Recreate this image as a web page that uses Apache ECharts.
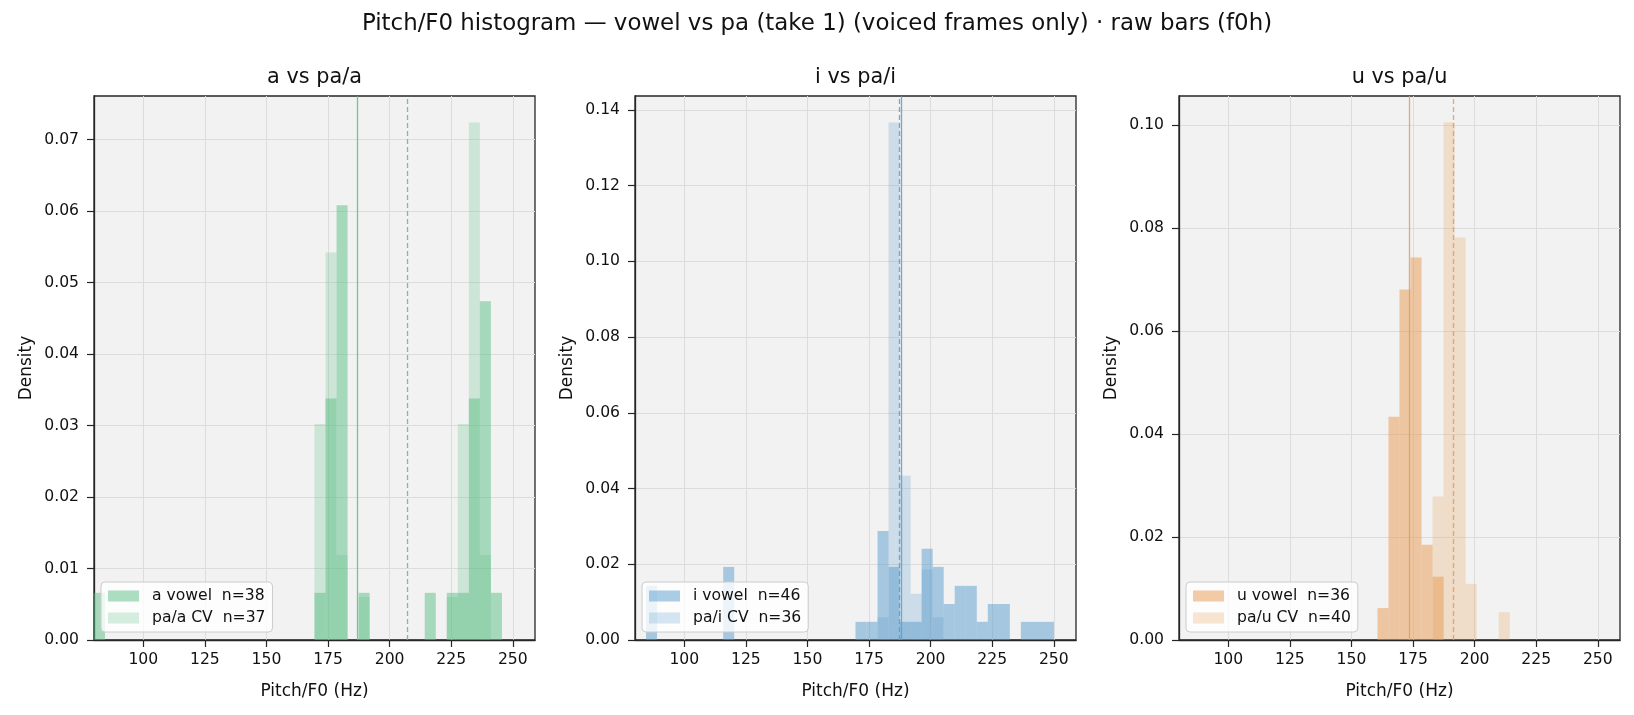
<!DOCTYPE html>
<html>
<head>
<meta charset="utf-8">
<title>Pitch/F0 histogram</title>
<script src="https://cdn.jsdelivr.net/npm/echarts@6/dist/echarts.min.js"></script>
<style>
html, body { margin: 0; padding: 0; background: #fff; }
#main { width: 1634px; height: 715px; }
</style>
</head>
<body>
<div id="main"></div>
<script>
// shared histogram bins (Hz)
var binMin = 80;
var binMax = 259;
var binCount = 40;

var panelTitles = ['a vs pa/a', 'i vs pa/i', 'u vs pa/u'];
var vowelNames = ['a vowel  n=38', 'i vowel  n=46', 'u vowel  n=36'];
var cvNames = ['pa/a CV  n=37', 'pa/i CV  n=36', 'pa/u CV  n=40'];

// [bin index, density]
var aVowel = [[0, 0.0066], [20, 0.0066], [21, 0.0338], [22, 0.0608], [24, 0.0066], [30, 0.0066],
              [32, 0.0066], [33, 0.0066], [34, 0.0338], [35, 0.0474], [36, 0.0066]];
var paA = [[20, 0.0302], [21, 0.0542], [22, 0.0119], [24, 0.0060], [32, 0.0060], [33, 0.0302],
           [34, 0.0724], [35, 0.0119]];
var iVowel = [[1, 0.0143], [8, 0.0193], [20, 0.0048], [21, 0.0048], [22, 0.0288], [23, 0.0193],
              [24, 0.0048], [25, 0.0048], [26, 0.0241], [27, 0.0193], [28, 0.0095], [29, 0.0143],
              [30, 0.0143], [31, 0.0048], [32, 0.0095], [33, 0.0095], [35, 0.0048], [36, 0.0048],
              [37, 0.0048]];
var paI = [[22, 0.0060], [23, 0.1367], [24, 0.0434], [25, 0.0122], [26, 0.0186], [27, 0.0060]];
var uVowel = [[18, 0.0062], [19, 0.0434], [20, 0.0681], [21, 0.0743], [22, 0.0185], [23, 0.0123]];
var paU = [[23, 0.0279], [24, 0.1006], [25, 0.0782], [26, 0.0109], [29, 0.0054]];

// mean F0 lines
var vowelMeans = [186.9, 188.0, 173.5];
var cvMeans = [207.2, 187.4, 191.4];

// axes
var xTicks = [100, 125, 150, 175, 200, 225, 250];
var yMax = [0.0761, 0.1437, 0.1057];
var yTicks = [
	[0, 0.01, 0.02, 0.03, 0.04, 0.05, 0.06, 0.07],
	[0, 0.02, 0.04, 0.06, 0.08, 0.10, 0.12, 0.14],
	[0, 0.02, 0.04, 0.06, 0.08, 0.10]
];

var baseColors = ['90,190,132', '90,156,205', '232,154,80'];
var vowelData = [aVowel, iVowel, uVowel];
var cvData = [paA, paI, paU];

var gridLefts = [94, 635, 1179];
var gridTop = 96;
var gridWidth = 441;
var gridHeight = 544;
var fontName = 'DejaVu Sans';
var inkColor = '#262626';

var histUtil = {
	binWidth: (binMax - binMin) / binCount,
	// bin pairs -> [start, end, density]
	toRows: function (pairs) {
		var w = this.binWidth;
		return pairs.map(function (p) {
			return [binMin + p[0] * w, binMin + (p[0] + 1) * w, p[1]];
		});
	},
	renderBar: function (params, api) {
		var topLeft = api.coord([api.value(0), api.value(2)]);
		var bottomRight = api.coord([api.value(1), 0]);
		return {
			type: 'rect',
			shape: {
				x: topLeft[0],
				y: topLeft[1],
				width: bottomRight[0] - topLeft[0],
				height: bottomRight[1] - topLeft[1]
			},
			style: { fill: api.visual('color') }
		};
	},
	meanLine: function (value, color, dashed) {
		return {
			symbol: 'none',
			silent: true,
			animation: false,
			label: { show: false },
			emphasis: { disabled: true },
			lineStyle: { color: color, width: 1.3, type: dashed ? [5, 3] : 'solid' },
			data: [{ xAxis: value }]
		};
	}
};

var option = {
	backgroundColor: '#ffffff',
	animation: false,
	title: [],
	legend: [],
	grid: [],
	xAxis: [],
	yAxis: [],
	series: []
};

option.title.push({
	text: 'Pitch/F0 histogram \u2014 vowel vs pa (take 1) (voiced frames only) \u00b7 raw bars (f0h)',
	left: 817,
	top: 13,
	padding: 0,
	textAlign: 'center',
	textStyle: { fontFamily: fontName, fontSize: 22.9, fontWeight: 'normal', color: '#111' }
});

for (var i = 0; i < 3; i++) {
	var col = baseColors[i];
	option.title.push({
		text: panelTitles[i],
		left: gridLefts[i] + gridWidth / 2,
		top: 67,
		padding: 0,
		textAlign: 'center',
		textStyle: { fontFamily: fontName, fontSize: 20.8, fontWeight: 'normal', color: '#111' }
	});
	option.grid.push({
		left: gridLefts[i],
		top: gridTop,
		width: gridWidth,
		height: gridHeight,
		show: true,
		backgroundColor: '#f2f2f2',
		borderColor: inkColor,
		borderWidth: 1.3
	});
	option.xAxis.push({
		type: 'value',
		gridIndex: i,
		min: binMin,
		max: binMax,
		minInterval: 25,
		maxInterval: 25,
		name: 'Pitch/F0 (Hz)',
		nameLocation: 'middle',
		nameGap: 43,
		nameTextStyle: { fontFamily: fontName, fontSize: 17, color: '#111' },
		axisLine: { show: true, onZero: false, lineStyle: { color: inkColor, width: 1.3 } },
		axisTick: { show: true, length: 7, customValues: xTicks, lineStyle: { color: inkColor, width: 1.2 } },
		axisLabel: {
			customValues: xTicks,
			margin: 12,
			fontFamily: fontName,
			fontSize: 15.6,
			color: '#111'
		},
		splitLine: { show: true, lineStyle: { color: '#dcdcdc', width: 1 } }
	});
	option.yAxis.push({
		type: 'value',
		gridIndex: i,
		min: 0,
		max: yMax[i],
		name: 'Density',
		nameLocation: 'middle',
		nameGap: 59,
		nameTextStyle: { fontFamily: fontName, fontSize: 17, color: '#111' },
		axisLine: { show: true, lineStyle: { color: inkColor, width: 1.3 } },
		axisTick: { show: true, length: 7, customValues: yTicks[i], lineStyle: { color: inkColor, width: 1.2 } },
		axisLabel: {
			customValues: yTicks[i],
			margin: 15,
			fontFamily: fontName,
			fontSize: 15.6,
			color: '#111',
			formatter: function (v) { return v.toFixed(2); }
		},
		splitLine: { show: true, lineStyle: { color: '#dcdcdc', width: 1 } }
	});
	option.series.push({
		type: 'custom',
		name: vowelNames[i],
		xAxisIndex: i,
		yAxisIndex: i,
		itemStyle: { color: 'rgba(' + col + ',0.5)' },
		encode: { x: [0, 1], y: 2 },
		renderItem: histUtil.renderBar,
		data: histUtil.toRows(vowelData[i]),
		markLine: histUtil.meanLine(vowelMeans[i], 'rgba(' + col + ',0.85)', false),
		z: 2
	});
	option.series.push({
		type: 'custom',
		name: cvNames[i],
		xAxisIndex: i,
		yAxisIndex: i,
		itemStyle: { color: 'rgba(' + col + ',0.25)' },
		encode: { x: [0, 1], y: 2 },
		renderItem: histUtil.renderBar,
		data: histUtil.toRows(cvData[i]),
		markLine: histUtil.meanLine(cvMeans[i], 'rgba(' + col + ',0.85)', true),
		z: 3
	});
	option.legend.push({
		data: [
			{ name: vowelNames[i], icon: 'rect' },
			{ name: cvNames[i], icon: 'rect' }
		],
		orient: 'vertical',
		left: gridLefts[i] + 7,
		top: 582,
		padding: [5, 7, 5, 7],
		itemWidth: 31,
		itemHeight: 11,
		itemGap: 4,
		selectedMode: false,
		backgroundColor: 'rgba(255,255,255,0.8)',
		borderColor: '#cccccc',
		borderWidth: 1,
		borderRadius: 4,
		textStyle: { fontFamily: fontName, fontSize: 15.6, color: '#111', lineHeight: 18, padding: [0, 0, 0, 8] }
	});
}

var chart = echarts.init(document.getElementById('main'), null, { renderer: 'canvas' });
chart.setOption(option);
</script>
</body>
</html>
